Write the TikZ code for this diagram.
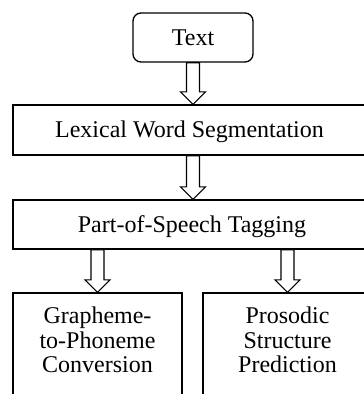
\documentclass[tikz,border=0pt]{standalone}
\usepackage{fontspec}
\setmainfont{Liberation Serif}
\usetikzlibrary{calc}
\tikzset{
  box/.style={draw, line width=1.3pt, inner sep=0pt, text height=15pt, text depth=0pt},
  rbox/.style={box, rounded corners=8pt},
  lbl/.style={inner sep=0pt, align=center, anchor=north},
  barrow/.style={draw, line width=1.2pt, fill=white, line join=miter}
}
\newcommand\blockarrow[2]{%
  \draw[barrow] let \p1=(#1), \p2=(#2) in
    (\x1-6.5pt,\y1) -- (\x1-6.5pt,\y2+12.5pt) -- (\x1-12.5pt,\y2+12.5pt) --
    (\x1,\y2) -- (\x1+12.5pt,\y2+12.5pt) -- (\x1+6.5pt,\y2+12.5pt) --
    (\x1+6.5pt,\y1) -- cycle;}
\begin{document}
\begin{tikzpicture}[x=1pt, y=-1pt, font=\fontsize{24}{24.5}\selectfont]
  \useasboundingbox (0,0) rectangle (364,394);
  \clip (0,0) rectangle (364,394);
  \node[rbox, minimum width=120pt, minimum height=49pt] (text) at (193,37.5) {Text};
  \node[box, minimum width=353pt, minimum height=50pt] (lex) at (189.5,130) {Lexical Word Segmentation};
  \node[box, minimum width=358pt, minimum height=49pt] (pos) at (192,224.5) {Part-of-Speech Tagging};
  \node[box, minimum width=169pt, minimum height=107pt] (g2p) at (97.5,346.5) {};
  \node[box, minimum width=169pt, minimum height=107pt] (psp) at (287.5,346.5) {};
  \node[lbl] (g2pt) at ($(g2p.north)+(0,14.5)$) {Grapheme-\\to-Phoneme\\Conversion};
  \node[lbl] (pspt) at ($(psp.north)+(0,14.5)$) {Prosodic\\Structure\\Prediction};
  \blockarrow{text.south}{lex.north}
  \blockarrow{lex.south -| text.south}{pos.north}
  \blockarrow{pos.south -| g2p.north}{g2p.north}
  \blockarrow{pos.south -| psp.north}{psp.north}
\end{tikzpicture}
\end{document}
